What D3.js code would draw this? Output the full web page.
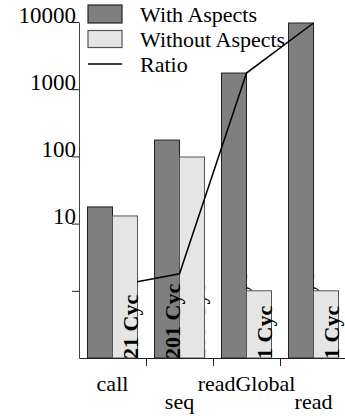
<!DOCTYPE html>
<html>
<head>
<meta charset="utf-8">
<script src="https://cdn.jsdelivr.net/npm/d3@7"></script>
<style>
  body { margin: 0; background: #fff; }
  svg text { font-family: "Liberation Serif", "DejaVu Serif", serif; fill: #000; }
</style>
</head>
<body>
<div id="chart"></div>
<script>
const categories = ["call", "seq", "readGlobal", "read"];
const withAspects = [17.7, 175, 1740, 9660];
const withoutAspects = [13, 98, 1, 1];
const ratio = [1.36, 1.79, 1740, 9660];
// where the ratio point sits, as an offset from the group centre (in groups)
const ratioOffset = [0.37, 0, 0, 0];
const labelsWith = ["", "201 Cyc", "1740 Cyc", "9660 Cyc"];
const labelsWithout = ["21 Cyc", "100 Cyc", "1 Cyc", "1 Cyc"];
// which label is printed over the bars, the other one stays behind its bar
const frontLabel = ["without", "with", "without", "without"];
const yTicks = [1, 10, 100, 1000, 10000];
const seriesNames = ["With Aspects", "Without Aspects", "Ratio"];

const W = 345, H = 416;
const margin = {top: 22, right: 0, bottom: 58, left: 79};
const plotW = 268;
const plotH = H - margin.top - margin.bottom;
const serif = "'Liberation Serif', 'DejaVu Serif', serif";

const colors = {with: "#7f7f7f", without: "#e5e5e5"};

const svg = d3.select("#chart").append("svg")
  .attr("width", W)
  .attr("height", H)
  .attr("font-family", serif);

const g = svg.append("g")
  .attr("transform", `translate(${margin.left}, ${margin.top})`);

const xg = d3.scaleLinear()
  .domain([0, categories.length])
  .range([0, plotW]);
const groupW = xg(1) - xg(0);

const x1 = d3.scaleBand()
  .domain(["with", "without"])
  .range([0, groupW])
  .paddingInner(0)
  .paddingOuter(0.34);

const y = d3.scaleLog()
  .domain([0.1, 10000])
  .range([plotH, 0]);

const data = categories.map((c, i) => ({
  cat: c, i,
  bars: [
    {key: "with", v: withAspects[i], label: labelsWith[i]},
    {key: "without", v: withoutAspects[i], label: labelsWithout[i]}
  ]
}));

svg.append("defs").append("clipPath")
  .attr("id", "plotclip")
  .append("rect")
  .attr("x", 0).attr("y", -margin.top)
  .attr("width", plotW + 10).attr("height", plotH + margin.top);

function barLabel(sel) {
  sel.attr("transform", d => `translate(${xg(d.i) + x1(d.key) + x1.bandwidth()}, ${plotH + 1}) rotate(-90)`)
    .attr("text-anchor", "start")
    .style("font-family", serif)
    .style("font-size", "22px")
    .style("font-weight", "bold")
    .text(d => d.label);
}

const allBars = data.flatMap(d => d.bars.map(b => ({...b, i: d.i})));

// labels hidden behind the bars
g.append("g").attr("clip-path", "url(#plotclip)")
  .selectAll("text")
  .data(allBars.filter(b => b.label && frontLabel[b.i] !== b.key))
  .join("text")
  .call(barLabel);

g.append("g")
  .selectAll("rect")
  .data(allBars)
  .join("rect")
  .attr("x", d => xg(d.i) + x1(d.key))
  .attr("y", d => y(d.v))
  .attr("width", x1.bandwidth())
  .attr("height", d => plotH - y(d.v))
  .attr("fill", d => colors[d.key])
  .attr("stroke", d => d.key === "with" ? "#222" : "#555")
  .attr("stroke-width", 1);

// labels over the bars
g.append("g").attr("clip-path", "url(#plotclip)")
  .selectAll("text")
  .data(allBars.filter(b => b.label && frontLabel[b.i] === b.key))
  .join("text")
  .call(barLabel);

// y axis
const yAxis = d3.axisLeft(y)
  .tickValues(yTicks)
  .tickFormat(d => d >= 10 ? d3.format("d")(d) : "")
  .tickSize(7)
  .tickSizeOuter(0);
const ya = g.append("g").call(yAxis).attr("font-family", serif);
ya.select(".domain").attr("stroke", "#444");
ya.selectAll(".tick line").attr("stroke", "#222");
ya.selectAll(".tick text")
  .attr("x", -3)
  .attr("dy", 0)
  .attr("text-anchor", "end")
  .style("font-family", serif)
  .style("font-size", "23px")
  .attr("fill", "#000");

// x axis, ticks between the groups
const xAxis = d3.axisBottom(xg)
  .tickValues(d3.range(1, categories.length))
  .tickFormat("")
  .tickSize(8)
  .tickSizeOuter(0);
const xa = g.append("g")
  .attr("transform", `translate(0, ${plotH})`)
  .call(xAxis);
xa.select(".domain").attr("stroke", "#222");
xa.selectAll(".tick line").attr("stroke", "#222");

g.append("g")
  .selectAll("text")
  .data(categories)
  .join("text")
  .attr("x", (d, i) => xg(i + 0.5))
  .attr("y", (d, i) => plotH + (i % 2 ? 51 : 33))
  .attr("text-anchor", "middle")
  .style("font-family", serif)
  .style("font-size", "22px")
  .text(d => d);

// legend
const lg = svg.append("g").attr("transform", "translate(88, 0)");
const rowY = [14, 39, 64];
lg.append("rect").attr("x", 0).attr("y", rowY[0] - 9).attr("width", 34).attr("height", 18)
  .attr("fill", colors.with).attr("stroke", "#222").attr("stroke-width", 1.2);
lg.append("rect").attr("x", 0).attr("y", rowY[1] - 8.5).attr("width", 34).attr("height", 17)
  .attr("fill", colors.without).attr("stroke", "#555").attr("stroke-width", 1.2);
lg.append("line").attr("x1", 0).attr("x2", 34).attr("y1", rowY[2]).attr("y2", rowY[2])
  .attr("stroke", "#000").attr("stroke-width", 1.6);
lg.selectAll("text")
  .data(seriesNames)
  .join("text")
  .attr("x", 52)
  .attr("y", (d, i) => rowY[i] + 7.5)
  .style("font-family", serif)
  .style("font-size", "22px")
  .text(d => d);

// ratio line
const line = d3.line()
  .x((d, i) => xg(i + 0.5 + ratioOffset[i]))
  .y(d => y(d));
g.append("path")
  .datum(ratio)
  .attr("d", line)
  .attr("fill", "none")
  .attr("stroke", "#000")
  .attr("stroke-width", 1.5);
</script>
</body>
</html>
